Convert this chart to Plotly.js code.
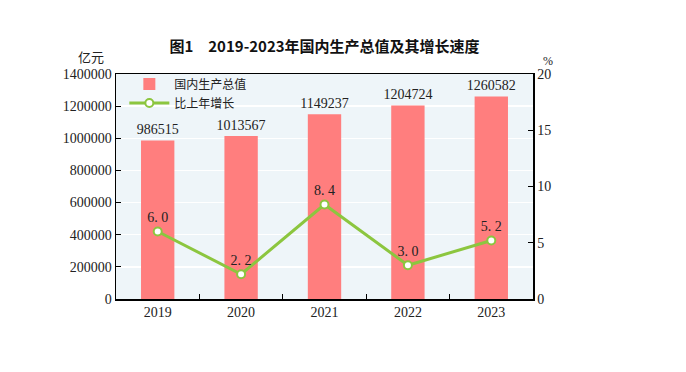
<!DOCTYPE html>
<html><head><meta charset="utf-8">
<script src="https://cdn.plot.ly/plotly-3.0.1.min.js"></script>
<style>body{margin:0;background:#fff}#c{width:686px;height:372px}</style>
</head><body><div id="c"></div>
<script>
const years = ['2019','2020','2021','2022','2023'];
const gdp = [986515, 1013567, 1149237, 1204724, 1260582];
const growth = [6.0, 2.2, 8.4, 3.0, 5.2];
const leftTicks = [0,200000,400000,600000,800000,1000000,1200000,1400000];
const rightTicks = [0,5,10,15,20];

const serif = 'Liberation Serif, Times New Roman, serif';
const cjk = 'Noto Sans CJK SC, sans-serif';

const traces = [
  {type:'bar', x:years, y:gdp, name:'国内生产总值', marker:{color:'#FF7E7E'}, width:0.4,
   text:gdp.map(String), textposition:'outside', cliponaxis:false, constraintext:'none',
   textfont:{family:serif, size:14, color:'#222'}},
  {type:'scatter', mode:'lines+markers+text', x:years, y:growth, yaxis:'y2', name:'比上年增长',
   line:{color:'#8CC63F', width:3}, marker:{size:8, color:'#fff', line:{color:'#8CC63F', width:2}},
   text:growth.map(v=>v.toFixed(1).replace('.', '. ')), textposition:'top center',
   textfont:{family:serif, size:14, color:'#222'}}
];

const layout = {
  width:686, height:372,
  margin:{l:116, r:153, t:74, b:73},
  paper_bgcolor:'#fff', plot_bgcolor:'#EEF5F9',
  showlegend:true,
  legend:{x:0.02, y:1.02, xanchor:'left', yanchor:'top', bgcolor:'rgba(0,0,0,0)',
          font:{family:cjk, size:12, color:'#222'}, tracegroupgap:0, itemwidth:40},
  bargap:0.6,
  title:{text:'<b>图1　2019-2023年国内生产总值及其增长速度</b>', x:0.5, xanchor:'center', xref:'paper',
         yref:'container', y:0.874, yanchor:'middle', font:{family:cjk, size:15, color:'#111'}},
  xaxis:{type:'category', showline:true, linecolor:'#000', linewidth:1.5, mirror:true,
         ticks:'inside', tickson:'boundaries', ticklen:5, tickcolor:'#000',
         tickfont:{family:serif, size:14, color:'#222'}, showgrid:false},
  yaxis:{range:[0,1400000], tickvals:leftTicks, ticktext:leftTicks.map(String),
         showline:true, linecolor:'#000', linewidth:1.5, ticks:'inside', ticklen:5, tickcolor:'#000',
         showgrid:true, gridcolor:'#fff', gridwidth:1.5, zeroline:false,
         tickfont:{family:serif, size:14, color:'#222'}},
  yaxis2:{range:[0,20], tickvals:rightTicks, overlaying:'y', side:'right',
          showline:true, linecolor:'#000', linewidth:1.5, ticks:'inside', ticklen:5, tickcolor:'#000',
          showgrid:false, zeroline:false, tickfont:{family:serif, size:14, color:'#222'}},
  annotations:[
    {text:'亿元', xref:'paper', yref:'paper', x:-0.025, y:1.0, xanchor:'right', yanchor:'bottom',
     yshift:6, showarrow:false, font:{family:cjk, size:13, color:'#222'}},
    {text:'%', xref:'paper', yref:'paper', x:1.02, y:1.0, xanchor:'left', yanchor:'bottom',
     yshift:4, showarrow:false, font:{family:serif, size:12, color:'#222'}}
  ]
};
Plotly.newPlot('c', traces, layout, {displayModeBar:false, staticPlot:true});
</script></body></html>
